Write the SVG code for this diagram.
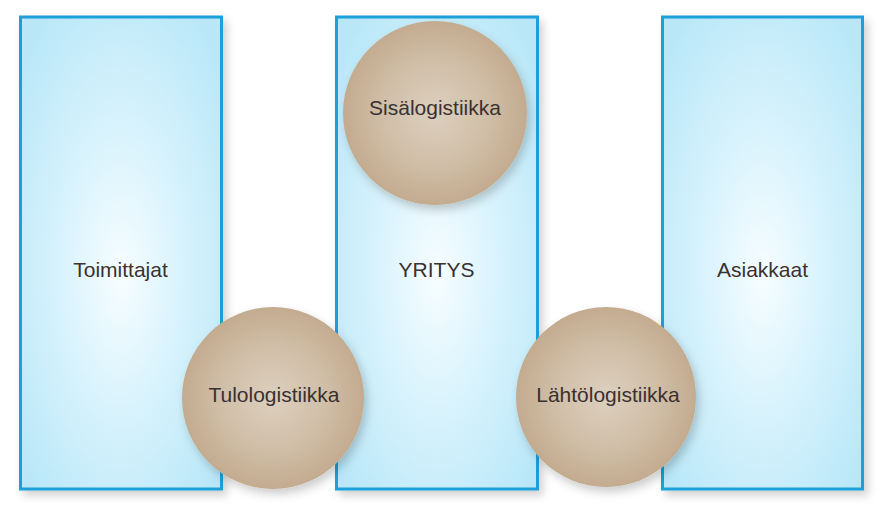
<svg xmlns="http://www.w3.org/2000/svg" width="886" height="524" viewBox="0 0 886 524">
  <style>
    .col { fill: url(#blueGrad); stroke: #1aa0d8; stroke-width: 3; filter: url(#shadow); }
    .ball { fill: url(#tanGrad); filter: url(#shadowBall); }
    .lbl { font-family: "Liberation Sans", Arial, sans-serif; font-size: 21px; fill: #3a3131; text-anchor: middle; }
  </style>
  <defs>
    <radialGradient id="blueGrad" cx="50%" cy="52%" r="65%" fx="50%" fy="55%">
      <stop offset="0" stop-color="#f7fdff"/>
      <stop offset="0.45" stop-color="#d9f3fc"/>
      <stop offset="1" stop-color="#b9e7f8"/>
    </radialGradient>
    <radialGradient id="tanGrad" cx="50%" cy="50%" r="50%">
      <stop offset="0" stop-color="#ddd0bf"/>
      <stop offset="0.6" stop-color="#cfbda6"/>
      <stop offset="1" stop-color="#c3ab8f"/>
    </radialGradient>
    <filter id="shadow" x="-10%" y="-5%" width="125%" height="115%">
      <feDropShadow dx="4" dy="5" stdDeviation="4" flood-color="#000" flood-opacity="0.18"/>
    </filter>
    <filter id="shadowBall" x="-20%" y="-20%" width="145%" height="145%">
      <feDropShadow dx="3" dy="5" stdDeviation="5" flood-color="#000" flood-opacity="0.2"/>
    </filter>
  </defs>
  <rect width="886" height="524" fill="#ffffff"/>
  <g id="toimittajat">
    <rect class="col" x="20.5" y="17" width="201" height="472"/>
    <text class="lbl" x="120.5" y="277">Toimittajat</text>
  </g>
  <g id="yritys">
    <rect class="col" x="336.5" y="17" width="201" height="472"/>
    <text class="lbl" x="436.5" y="277">YRITYS</text>
  </g>
  <g id="asiakkaat">
    <rect class="col" x="662.5" y="17" width="200" height="472"/>
    <text class="lbl" x="762.5" y="277">Asiakkaat</text>
  </g>
  <g id="sisalogistiikka">
    <circle class="ball" cx="435" cy="113" r="92"/>
    <text class="lbl" x="435" y="115">Sisälogistiikka</text>
  </g>
  <g id="tulologistiikka">
    <circle class="ball" cx="273" cy="398" r="91"/>
    <text class="lbl" x="274" y="402">Tulologistiikka</text>
  </g>
  <g id="lahtologistiikka">
    <circle class="ball" cx="606" cy="397" r="90"/>
    <text class="lbl" x="608" y="402">Lähtölogistiikka</text>
  </g>
  <g id="connectors"/>
</svg>
